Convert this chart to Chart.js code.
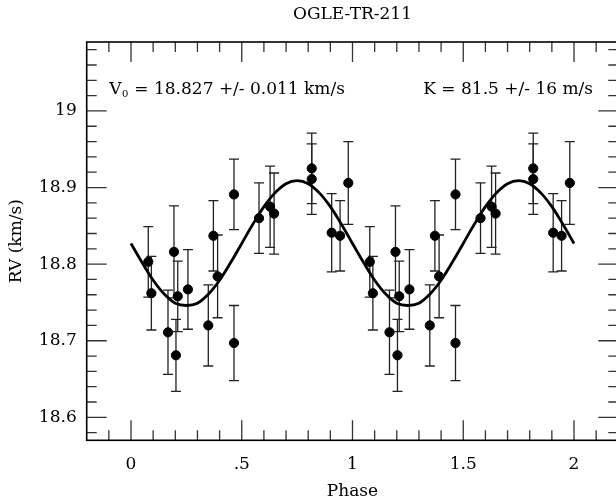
<!DOCTYPE html>
<html>
<head>
<meta charset="utf-8">
<script src="https://cdn.jsdelivr.net/npm/chart.js@4.4.1/dist/chart.umd.min.js"></script>
<style>
  html, body { margin: 0; padding: 0; background: #fff; overflow: hidden; }
  #wrap { width: 624px; height: 504px; }
</style>
</head>
<body>
<div id="wrap"><canvas id="c" width="624" height="504"></canvas></div>
<script>
// ---- data ----
const titleText = "OGLE-TR-211";
const xTitle = "Phase";
const yTitle = "RV (km/s)";
const v0Label = "= 18.827 +/- 0.011 km/s";
const kLabel = "K = 81.5 +/- 16 m/s";

const phase = [0.078, 0.092, 0.167, 0.194, 0.203, 0.211, 0.257, 0.349, 0.372, 0.391,
               0.465, 0.465, 0.578, 0.628, 0.646, 0.816, 0.816, 0.906, 0.944, 0.981];
const rv    = [18.803, 18.762, 18.711, 18.816, 18.681, 18.758, 18.767, 18.720, 18.837, 18.784,
               18.891, 18.697, 18.860, 18.875, 18.866, 18.925, 18.911, 18.841, 18.837, 18.906];
const rvErr = [0.046, 0.048, 0.055, 0.060, 0.047, 0.046, 0.052, 0.053, 0.046, 0.054,
               0.046, 0.049, 0.046, 0.053, 0.053, 0.046, 0.046, 0.051, 0.046, 0.054];

const curvePhase = [0.00,0.05,0.10,0.15,0.20,0.25,0.30,0.35,0.40,0.45,
                    0.50,0.55,0.60,0.65,0.70,0.75,0.80,0.85,0.90,0.95,
                    1.00,1.05,1.10,1.15,1.20,1.25,1.30,1.35,1.40,1.45,
                    1.50,1.55,1.60,1.65,1.70,1.75,1.80,1.85,1.90,1.95,2.00];
const curveRV = [18.827,18.802,18.779,18.761,18.749,18.746,18.749,18.761,18.779,18.802,
                 18.827,18.852,18.875,18.893,18.905,18.909,18.905,18.893,18.875,18.852,
                 18.827,18.802,18.779,18.761,18.749,18.746,18.749,18.761,18.779,18.802,
                 18.827,18.852,18.875,18.893,18.905,18.909,18.905,18.893,18.875,18.852,18.827];

const xTickValues = [0, 0.5, 1, 1.5, 2];
const xTickLabels = ["0", ".5", "1", "1.5", "2"];
const yTickValues = [18.6, 18.7, 18.8, 18.9, 19.0];
const yTickLabels = ["18.6", "18.7", "18.8", "18.9", "19"];
const xRange = [-0.2, 2.2];
const yRange = [18.57, 19.09];
const cycles = [0, 1];

// ---- build plotting tables ----
const points = [];
const errs = [];
cycles.forEach(c => {
  phase.forEach((p, i) => {
    points.push({ x: p + c, y: rv[i] });
    errs.push(rvErr[i]);
  });
});
const curve = curvePhase.map((p, i) => ({ x: p, y: curveRV[i] }));

const FONT = "'DejaVu Serif', 'Liberation Serif', serif";
Chart.defaults.font.family = FONT;
Chart.defaults.font.size = 17;
Chart.defaults.color = '#000';

const framePlugin = {
  id: 'frame',
  beforeDatasetsDraw(chart) {
    const ctx = chart.ctx, a = chart.chartArea;
    const xs = chart.scales.x, ys = chart.scales.y;
    // error bars
    ctx.save();
    ctx.strokeStyle = '#222';
    ctx.lineWidth = 1.3;
    points.forEach((pt, i) => {
      const px = xs.getPixelForValue(pt.x);
      const yTop = ys.getPixelForValue(pt.y + errs[i]);
      const yBot = ys.getPixelForValue(pt.y - errs[i]);
      ctx.beginPath();
      ctx.moveTo(px, yTop); ctx.lineTo(px, yBot);
      ctx.moveTo(px - 5, yTop); ctx.lineTo(px + 5, yTop);
      ctx.moveTo(px - 5, yBot); ctx.lineTo(px + 5, yBot);
      ctx.stroke();
    });
    ctx.restore();
  },
  afterDraw(chart) {
    const ctx = chart.ctx, a = chart.chartArea;
    const xs = chart.scales.x, ys = chart.scales.y;
    ctx.save();
    // ticks (inward, all four sides)
    ctx.strokeStyle = '#333';
    ctx.lineWidth = 1.3;
    ctx.beginPath();
    for (let k = -1; k <= 21; k++) {
      const v = k / 10;
      const major = (k % 5 === 0);
      const len = major ? 20 : 10;
      const px = xs.getPixelForValue(v);
      ctx.moveTo(px, a.bottom); ctx.lineTo(px, a.bottom - len);
      ctx.moveTo(px, a.top); ctx.lineTo(px, a.top + len);
    }
    for (let k = 929; k <= 954; k++) {
      const v = k / 50;
      const major = (k % 5 === 0);
      const len = major ? 20 : 10;
      const py = ys.getPixelForValue(v);
      ctx.moveTo(a.left, py); ctx.lineTo(a.left + len, py);
      ctx.moveTo(a.right, py); ctx.lineTo(a.right - len, py);
    }
    ctx.stroke();
    // frame
    ctx.strokeStyle = '#000';
    ctx.lineWidth = 1.6;
    ctx.strokeRect(a.left, a.top, a.right - a.left, a.bottom - a.top);
    // title
    ctx.fillStyle = '#000';
    ctx.font = "17px " + FONT;
    ctx.textAlign = 'center';
    ctx.textBaseline = 'alphabetic';
    ctx.fillText(titleText, (a.left + a.right) / 2, 19);
    // annotations
    ctx.textAlign = 'left';
    const ax = a.left + 22.6, ay = a.top + 52;
    ctx.fillText("V", ax, ay);
    const wV = ctx.measureText("V").width;
    ctx.font = "10px " + FONT;
    ctx.fillText("0", ax + wV + 0.5, ay + 3);
    const w0 = ctx.measureText("0").width;
    ctx.font = "17px " + FONT;
    ctx.fillText(" " + v0Label, ax + wV + w0 + 1, ay);
    ctx.textAlign = 'right';
    ctx.fillText(kLabel, 593, ay);
    ctx.restore();
  }
};

new Chart(document.getElementById('c'), {
  type: 'scatter',
  data: {
    datasets: [
      {
        data: points,
        backgroundColor: '#000',
        borderColor: '#000',
        pointRadius: 4.6,
        pointHoverRadius: 4.6,
        order: 0
      },
      {
        type: 'line',
        data: curve,
        showLine: true,
        borderColor: '#000',
        borderWidth: 2.8,
        pointRadius: 0,
        tension: 0.4,
        fill: false,
        order: 1
      }
    ]
  },
  options: {
    responsive: false,
    animation: false,
    events: [],
    layout: { padding: { top: 42, right: 5.7, left: 0, bottom: 0 } },
    plugins: { legend: { display: false }, tooltip: { enabled: false }, title: { display: false } },
    scales: {
      x: {
        type: 'linear',
        min: xRange[0], max: xRange[1],
        afterFit: s => { s.height = 63.7; },
        afterBuildTicks: s => { s.ticks = xTickValues.map(v => ({ value: v })); },
        ticks: {
          padding: 14,
          autoSkip: false,
          maxRotation: 0,
          callback: (v, i) => xTickLabels[xTickValues.indexOf(v)] ?? ''
        },
        grid: { display: false, drawTicks: false },
        border: { display: false },
        title: { display: true, text: xTitle, padding: { top: 0, bottom: 2 }, font: { size: 17 } }
      },
      y: {
        type: 'linear',
        min: yRange[0], max: yRange[1],
        afterFit: s => { s.width = 86.7; },
        afterBuildTicks: s => { s.ticks = yTickValues.map(v => ({ value: v })); },
        ticks: {
          padding: 10,
          autoSkip: false,
          callback: (v) => {
            const i = yTickValues.findIndex(t => Math.abs(t - v) < 1e-9);
            return i >= 0 ? yTickLabels[i] : '';
          }
        },
        grid: { display: false, drawTicks: false },
        border: { display: false },
        title: { display: true, text: yTitle, padding: { top: 6, bottom: 0 }, font: { size: 17 } }
      }
    }
  },
  plugins: [framePlugin]
});
</script>
</body>
</html>
